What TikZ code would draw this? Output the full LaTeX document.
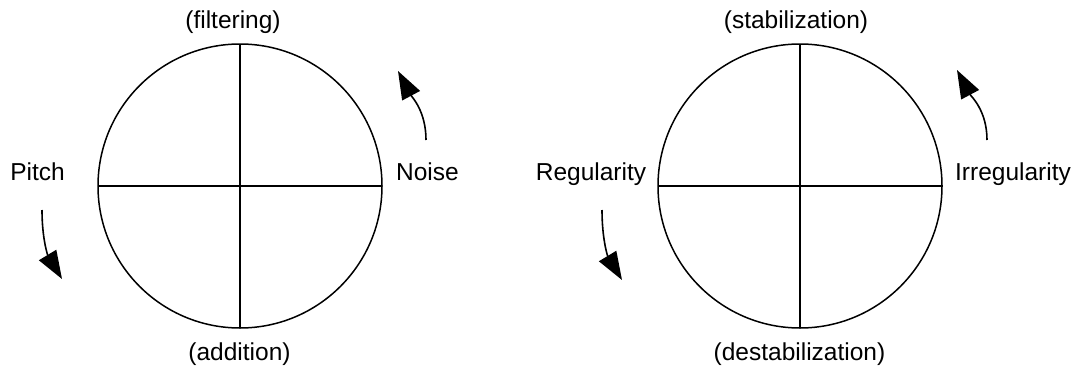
\documentclass[tikz,border=0pt]{standalone}
\usepackage{fontspec}
\setmainfont{Liberation Sans}
\usetikzlibrary{arrows.meta}
\tikzset{
  wheel/.style={draw=black, line width=1.5pt, circle, minimum size=284pt, inner sep=0pt, outer sep=0pt},
  axisline/.style={draw=black, line width=1.5pt},
  sidelabel/.style={anchor=base, inner sep=0pt, font=\fontsize{24.5}{28}\selectfont},
  turnarrow/.style={draw=black, line width=1.6pt, -{Triangle[length=28pt, width=20pt]}}
}

\begin{document}
\begin{tikzpicture}[x=1pt, y=-1pt]
  \useasboundingbox (0,0) rectangle (1079,367);

  % left wheel
  \node[wheel] (pitchwheel) at (240,186) {};
  \draw[axisline] (pitchwheel.north) -- (pitchwheel.south);
  \draw[axisline] (pitchwheel.west) -- (pitchwheel.east);
  \node[sidelabel] (filtering) at (233,28) {(filtering)};
  \node[sidelabel] (addition) at (239.5,360) {(addition)};
  \node[sidelabel] (pitch) at (37.5,180) {Pitch};
  \node[sidelabel] (noise) at (427.5,180) {Noise};
  \coordinate (pitchfrom) at (42,210);
  \coordinate (pitchto) at (62,279);
  \coordinate (noisefrom) at (426,140);
  \coordinate (noiseto) at (398,71);
  \draw[turnarrow] (pitchfrom) to[out=-90, in=121] (pitchto);
  \draw[turnarrow] (noisefrom) to[out=90, in=-62] (noiseto);

  % right wheel
  \node[wheel] (regwheel) at (800,186) {};
  \draw[axisline] (regwheel.north) -- (regwheel.south);
  \draw[axisline] (regwheel.west) -- (regwheel.east);
  \node[sidelabel] (stabilization) at (796,28) {(stabilization)};
  \node[sidelabel] (destabilization) at (799.5,360) {(destabilization)};
  \node[sidelabel] (regularity) at (591,180) {Regularity};
  \node[sidelabel] (irregularity) at (1013,180) {Irregularity};
  \coordinate (regfrom) at (602,210);
  \coordinate (regto) at (622,280);
  \coordinate (irregfrom) at (987,140);
  \coordinate (irregto) at (957,70);
  \draw[turnarrow] (regfrom) to[out=-90, in=121] (regto);
  \draw[turnarrow] (irregfrom) to[out=90, in=-62] (irregto);
\end{tikzpicture}
\end{document}
